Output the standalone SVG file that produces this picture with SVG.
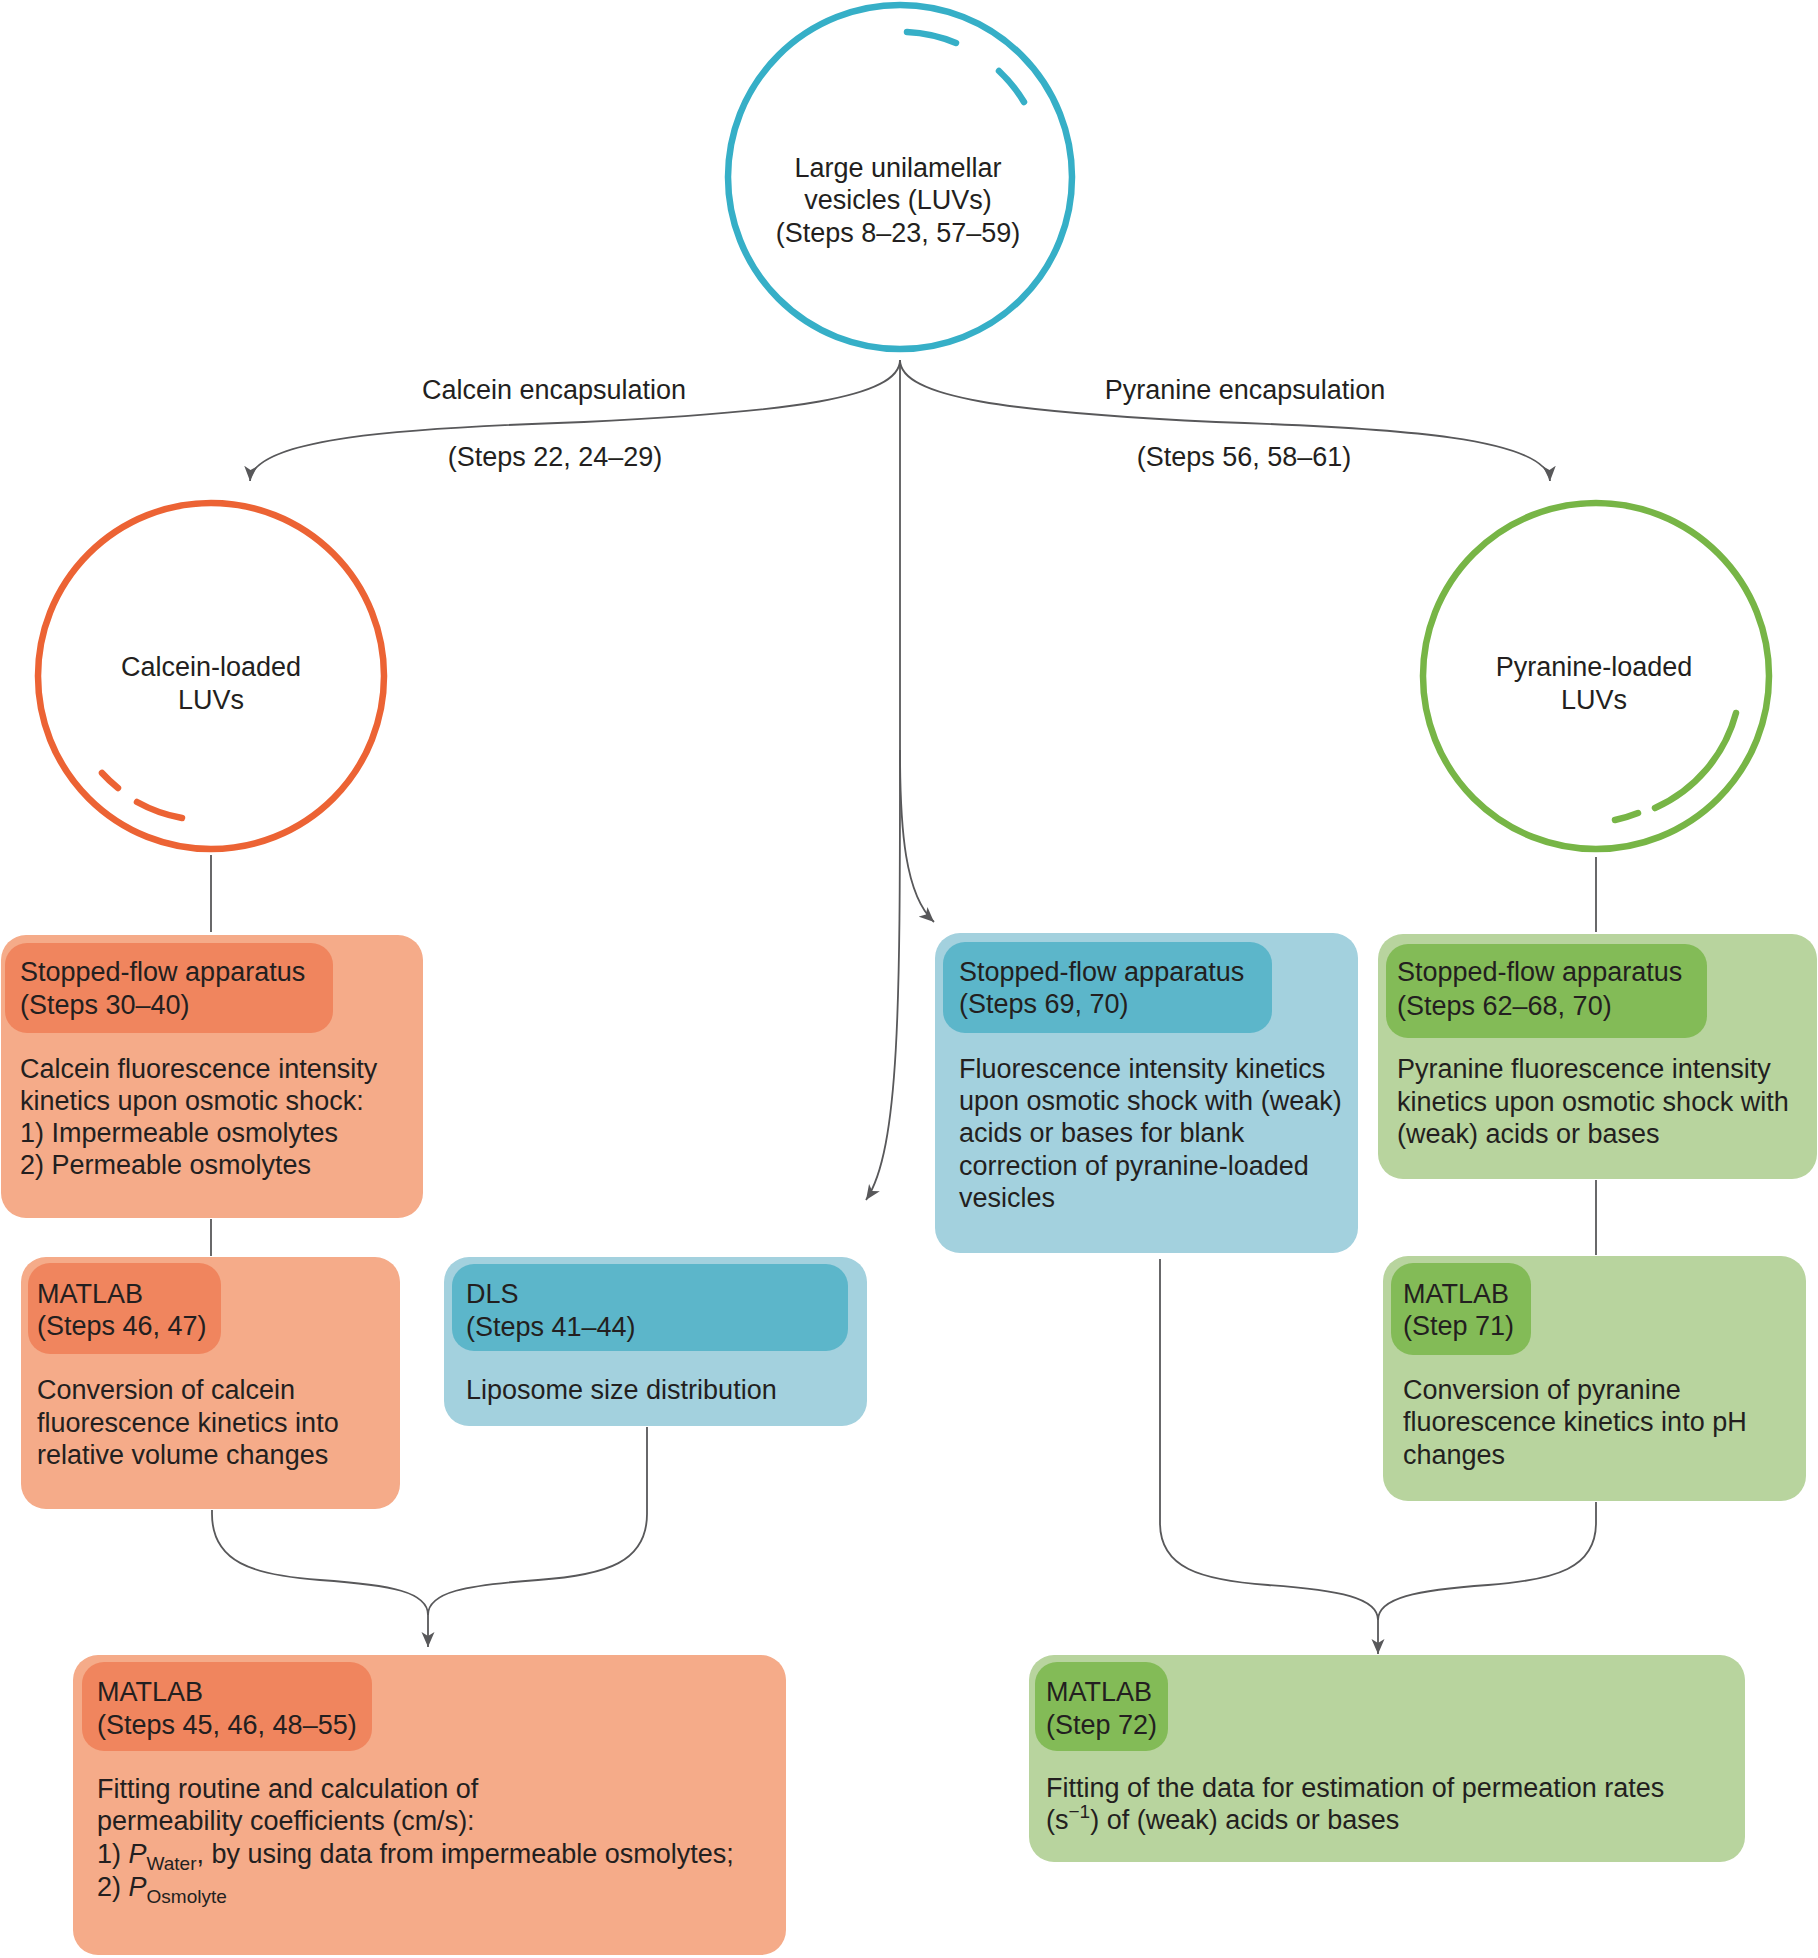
<svg xmlns="http://www.w3.org/2000/svg" width="1818" height="1958" viewBox="0 0 1818 1958">
<style>
.t{font-family:"Liberation Sans",Arial,Helvetica,sans-serif;font-size:27px;fill:#231f20}
.m{text-anchor:middle}
.sub{font-size:19px}
.c{fill:none;stroke-width:6.5}
.hl{fill:none;stroke-width:6.5;stroke-linecap:round}
.conn{fill:none;stroke:#58585a;stroke-width:1.8}
.ob{fill:#f5ab89}.oh{fill:#f0855e}
.bb{fill:#a3d1de}.bh{fill:#5cb6ca}
.gb{fill:#b8d49e}.gh{fill:#83bb57}
</style>
<defs>
<marker id="arr" markerUnits="userSpaceOnUse" markerWidth="18" markerHeight="14" refX="15" refY="7" orient="auto">
<path d="M0,0.5 L15,7 L0,13.5 L4,7 z" fill="#58585a"/>
</marker>
</defs>
<rect width="1818" height="1958" fill="#ffffff"/>

<g id="connectors">
<path class="conn" d="M 900 360 C 900 398, 790 412, 584 422 C 400 428, 252 438, 250 481" marker-end="url(#arr)"/>
<path class="conn" d="M 900 360 C 900 398, 1010 412, 1216 422 C 1400 428, 1548 438, 1550 481" marker-end="url(#arr)"/>
<path class="conn" d="M 900 360 L 900 750"/>
<path class="conn" d="M 900 750 C 900 830, 905 895, 934 922" marker-end="url(#arr)"/>
<path class="conn" d="M 900 750 C 900 1000, 900 1150, 866 1200" marker-end="url(#arr)"/>
<path class="conn" d="M 211 855 L 211 932"/>
<path class="conn" d="M 1596 857 L 1596 932"/>
<path class="conn" d="M 211 1219 L 211 1256"/>
<path class="conn" d="M 1596 1180 L 1596 1255"/>
<path class="conn" d="M 212 1510 L 212 1514 C 212 1562, 252 1575, 320 1580 C 392 1585, 428 1592, 428 1615"/>
<path class="conn" d="M 647 1427 L 647 1514 C 647 1562, 607 1575, 538 1580 C 466 1585, 428 1592, 428 1615"/>
<path class="conn" d="M 428 1612 L 428 1647" marker-end="url(#arr)"/>
<path class="conn" d="M 1160 1259 L 1160 1523 C 1160 1568, 1200 1580, 1268 1585 C 1340 1590, 1378 1598, 1378 1620"/>
<path class="conn" d="M 1596 1502 L 1596 1523 C 1596 1568, 1556 1580, 1488 1585 C 1416 1590, 1378 1598, 1378 1620"/>
<path class="conn" d="M 1378 1617 L 1378 1654" marker-end="url(#arr)"/>
</g>

<g id="labels">
<text class="t m" x="554" y="399">Calcein encapsulation</text>
<text class="t m" x="555" y="466">(Steps 22, 24–29)</text>
<text class="t m" x="1245" y="399">Pyranine encapsulation</text>
<text class="t m" x="1244" y="466">(Steps 56, 58–61)</text>
</g>

<g id="luv">
<circle class="c" cx="900" cy="177" r="172" stroke="#36afc7"/>
<path class="hl" stroke="#36afc7" d="M 907 32 A 145 145 0 0 1 956 43"/>
<path class="hl" stroke="#36afc7" d="M 999 71 A 145 145 0 0 1 1024 102"/>
<text class="t m" x="898" y="177">Large unilamellar</text>
<text class="t m" x="898" y="209">vesicles (LUVs)</text>
<text class="t m" x="898" y="242">(Steps 8–23, 57–59)</text>
</g>

<g id="calcein-luv">
<circle class="c" cx="211" cy="676" r="173" stroke="#ec6334"/>
<path class="hl" stroke="#ec6334" d="M 102 773 A 145 145 0 0 0 118 788"/>
<path class="hl" stroke="#ec6334" d="M 137 802 A 145 145 0 0 0 182 818"/>
<text class="t m" x="211" y="676">Calcein-loaded</text>
<text class="t m" x="211" y="709">LUVs</text>
</g>

<g id="pyranine-luv">
<circle class="c" cx="1596" cy="676" r="173" stroke="#77b546"/>
<path class="hl" stroke="#77b546" d="M 1736 713 A 145 145 0 0 1 1655 808"/>
<path class="hl" stroke="#77b546" d="M 1638 813 A 145 145 0 0 1 1615 820"/>
<text class="t m" x="1594" y="676">Pyranine-loaded</text>
<text class="t m" x="1594" y="709">LUVs</text>
</g>

<g id="sf-calcein">
<rect class="ob" x="1" y="935" width="422" height="283" rx="25"/>
<rect class="oh" x="5" y="943" width="328" height="90" rx="22"/>
<text class="t" x="20" y="981">Stopped-flow apparatus</text>
<text class="t" x="20" y="1014">(Steps 30–40)</text>
<text class="t" x="20" y="1078">Calcein fluorescence intensity</text>
<text class="t" x="20" y="1110">kinetics upon osmotic shock:</text>
<text class="t" x="20" y="1142">1) Impermeable osmolytes</text>
<text class="t" x="20" y="1174">2) Permeable osmolytes</text>
</g>

<g id="sf-blank">
<rect class="bb" x="935" y="933" width="423" height="320" rx="25"/>
<rect class="bh" x="943" y="942" width="329" height="91" rx="22"/>
<text class="t" x="959" y="981">Stopped-flow apparatus</text>
<text class="t" x="959" y="1013">(Steps 69, 70)</text>
<text class="t" x="959" y="1078">Fluorescence intensity kinetics</text>
<text class="t" x="959" y="1110">upon osmotic shock with (weak)</text>
<text class="t" x="959" y="1142">acids or bases for blank</text>
<text class="t" x="959" y="1175">correction of pyranine-loaded</text>
<text class="t" x="959" y="1207">vesicles</text>
</g>

<g id="sf-pyranine">
<rect class="gb" x="1378" y="934" width="439" height="245" rx="25"/>
<rect class="gh" x="1386" y="944" width="321" height="94" rx="22"/>
<text class="t" x="1397" y="981">Stopped-flow apparatus</text>
<text class="t" x="1397" y="1015">(Steps 62–68, 70)</text>
<text class="t" x="1397" y="1078">Pyranine fluorescence intensity</text>
<text class="t" x="1397" y="1111">kinetics upon osmotic shock with</text>
<text class="t" x="1397" y="1143">(weak) acids or bases</text>
</g>

<g id="matlab-calcein">
<rect class="ob" x="21" y="1257" width="379" height="252" rx="25"/>
<rect class="oh" x="28" y="1263" width="193" height="91" rx="22"/>
<text class="t" x="37" y="1303">MATLAB</text>
<text class="t" x="37" y="1335">(Steps 46, 47)</text>
<text class="t" x="37" y="1399">Conversion of calcein</text>
<text class="t" x="37" y="1432">fluorescence kinetics into</text>
<text class="t" x="37" y="1464">relative volume changes</text>
</g>

<g id="dls">
<rect class="bb" x="444" y="1257" width="423" height="169" rx="25"/>
<rect class="bh" x="452" y="1264" width="396" height="87" rx="22"/>
<text class="t" x="466" y="1303">DLS</text>
<text class="t" x="466" y="1336">(Steps 41–44)</text>
<text class="t" x="466" y="1399">Liposome size distribution</text>
</g>

<g id="matlab-pyranine">
<rect class="gb" x="1383" y="1256" width="423" height="245" rx="25"/>
<rect class="gh" x="1391" y="1263" width="140" height="92" rx="22"/>
<text class="t" x="1403" y="1303">MATLAB</text>
<text class="t" x="1403" y="1335">(Step 71)</text>
<text class="t" x="1403" y="1399">Conversion of pyranine</text>
<text class="t" x="1403" y="1431">fluorescence kinetics into pH</text>
<text class="t" x="1403" y="1464">changes</text>
</g>

<g id="matlab-fit-calcein">
<rect class="ob" x="73" y="1655" width="713" height="300" rx="25"/>
<rect class="oh" x="82" y="1662" width="290" height="89" rx="22"/>
<text class="t" x="97" y="1701">MATLAB</text>
<text class="t" x="97" y="1734">(Steps 45, 46, 48–55)</text>
<text class="t" x="97" y="1798">Fitting routine and calculation of</text>
<text class="t" x="97" y="1830">permeability coefficients (cm/s):</text>
<text class="t" x="97" y="1863">1) <tspan font-style="italic">P</tspan><tspan class="sub" dy="7">Water</tspan><tspan dy="-7">, by using data from impermeable osmolytes;</tspan></text>
<text class="t" x="97" y="1896">2) <tspan font-style="italic">P</tspan><tspan class="sub" dy="7">Osmolyte</tspan></text>
</g>

<g id="matlab-fit-pyranine">
<rect class="gb" x="1029" y="1655" width="716" height="207" rx="25"/>
<rect class="gh" x="1035" y="1662" width="133" height="89" rx="22"/>
<text class="t" x="1046" y="1701">MATLAB</text>
<text class="t" x="1046" y="1734">(Step 72)</text>
<text class="t" x="1046" y="1797">Fitting of the data for estimation of permeation rates</text>
<text class="t" x="1046" y="1829">(s<tspan class="sub" dy="-11">−1</tspan><tspan dy="11">) of (weak) acids or bases</tspan></text>
</g>
</svg>
